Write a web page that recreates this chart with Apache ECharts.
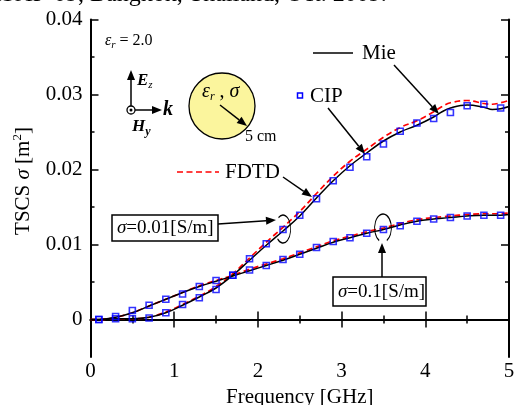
<!DOCTYPE html>
<html>
<head>
<meta charset="utf-8">
<script src="https://cdn.jsdelivr.net/npm/echarts@6/dist/echarts.min.js"></script>
<style>
  html, body { margin: 0; padding: 0; background: #fff; }
  #chart { width: 516px; height: 405px; }
</style>
</head>
<body>
<div id="chart"></div>
<script>
// frequency grid of the CIP samples [GHz]
var cipFreq = [0.1, 0.3, 0.5, 0.7, 0.9, 1.1, 1.3, 1.5, 1.7, 1.9, 2.1, 2.3, 2.5,
               2.7, 2.9, 3.1, 3.3, 3.5, 3.7, 3.9, 4.1, 4.3, 4.5, 4.7, 4.9];
// sigma = 0.01 S/m
var cipLow = [0, 0.0001, 0.0001, 0.0002, 0.0009, 0.0020, 0.0029, 0.0040, 0.0059, 0.0081,
              0.0101, 0.0120, 0.0139, 0.0161, 0.0185, 0.0203, 0.0217, 0.0234, 0.0251,
              0.0262, 0.0268, 0.0276, 0.0285, 0.0287, 0.0282];
// sigma = 0.1 S/m
var cipHigh = [0, 0.0004, 0.0012, 0.0019, 0.0027, 0.0034, 0.0044, 0.0052, 0.0059, 0.0066,
               0.0072, 0.0080, 0.0087, 0.0096, 0.0104, 0.0109, 0.0115, 0.0120, 0.0125,
               0.0131, 0.0134, 0.0136, 0.0138, 0.0139, 0.0139];

// frequency grid of the Mie / FDTD curves
var curveFreq = [0, 0.1, 0.3, 0.5, 0.7, 0.9, 1.1, 1.3, 1.5, 1.7, 1.9, 2.1, 2.3, 2.5, 2.7,
                 2.9, 3.1, 3.3, 3.5, 3.7, 3.9, 4.1, 4.2, 4.3, 4.5, 4.7, 4.8, 4.9, 5.0];
var mieLow = [0, 0, 0.0001, 0.0001, 0.0003, 0.0009, 0.0019, 0.0030, 0.0042, 0.0059, 0.0079,
              0.0099, 0.0118, 0.0138, 0.0162, 0.0185, 0.0205, 0.0222, 0.0238, 0.0250,
              0.0259, 0.0270, 0.0277, 0.0282, 0.0286, 0.0283, 0.0280, 0.0281, 0.0284];
var fdtdLow = [0, 0, 0.0001, 0.0001, 0.0003, 0.0010, 0.0020, 0.0031, 0.0044, 0.0061, 0.0082,
               0.0103, 0.0123, 0.0144, 0.0168, 0.0191, 0.0211, 0.0227, 0.0243, 0.0256,
               0.0265, 0.0277, 0.0284, 0.0289, 0.0292, 0.0288, 0.0287, 0.0289, 0.0292];
var mieHigh = [0, 0, 0.0003, 0.0009, 0.0018, 0.0027, 0.0036, 0.0044, 0.0051, 0.0058, 0.0065,
               0.0072, 0.0079, 0.0087, 0.0095, 0.0103, 0.0109, 0.0115, 0.0120, 0.0126,
               0.0131, 0.0134, 0.0135, 0.0136, 0.0138, 0.0139, 0.0139, 0.0139, 0.0140];
var fdtdHigh = [0, 0, 0.0003, 0.0009, 0.0018, 0.0027, 0.0036, 0.0045, 0.0052, 0.0059, 0.0067,
                0.0074, 0.0081, 0.0089, 0.0097, 0.0105, 0.0111, 0.0117, 0.0122, 0.0128,
                0.0133, 0.0136, 0.0137, 0.0138, 0.0140, 0.0141, 0.0141, 0.0141, 0.0142];

var yMajor = [0, 0.01, 0.02, 0.03, 0.04];
var yMinor = [0.005, 0.015, 0.025, 0.035];

var FONT = '"Liberation Serif", "DejaVu Serif", serif';
var FS = 21;

function pairs(xs, ys) {
    return xs.map(function (x, i) { return [x, ys[i]]; });
}

function yAxisCfg(pos, ticks, len, showLine, showLabel) {
    return {
        type: 'value', position: pos, min: -0.005, max: 0.04,
        axisLine: { show: showLine, lineStyle: { color: '#000', width: 2 } },
        axisTick: { inside: true, length: len, customValues: ticks, lineStyle: { color: '#000', width: 1.5 } },
        axisLabel: {
            show: showLabel, customValues: yMajor, margin: 8, fontFamily: FONT, fontSize: FS, color: '#000',
            formatter: function (v) { return Math.abs(v) < 1e-9 ? '0' : v.toFixed(2); }
        },
        splitLine: { show: false }
    };
}

function xAxisCfg(pos, showLabel) {
    return {
        type: 'value', position: pos, min: 0, max: 5, interval: 1,
        axisLine: { lineStyle: { color: '#000', width: 2 } },
        axisTick: { inside: true, length: 8, lineStyle: { color: '#000', width: 1.5 } },
        minorTick: { show: true, splitNumber: 2, length: 4, lineStyle: { color: '#000', width: 1.5 } },
        axisLabel: { show: showLabel, margin: 4, fontFamily: FONT, fontSize: FS, color: '#000' },
        splitLine: { show: false },
        name: showLabel ? 'Frequency [GHz]' : '',
        nameLocation: 'middle', nameGap: 26,
        nameTextStyle: { fontFamily: FONT, fontSize: FS, color: '#000' }
    };
}

function arrow(x1, y1, x2, y2) {
    var a = Math.atan2(y2 - y1, x2 - x1), L = 10, W = 4;
    var bx = x2 - L * Math.cos(a), by = y2 - L * Math.sin(a);
    return [
        { type: 'line', shape: { x1: x1, y1: y1, x2: bx, y2: by }, style: { stroke: '#000', lineWidth: 1.5 }, z: 200 },
        { type: 'polygon', shape: { points: [[x2, y2],
            [bx + W * Math.sin(a), by - W * Math.cos(a)],
            [bx - W * Math.sin(a), by + W * Math.cos(a)]] }, style: { fill: '#000' }, z: 200 }
    ];
}

function txt(x, y, text, size, extra) {
    var s = { x: x, y: y, text: text, fontFamily: FONT, fontSize: size, fill: '#000',
              textVerticalAlign: 'middle' };
    for (var k in extra) s[k] = extra[k];
    return { type: 'text', style: s, z: 210 };
}

var richBox = {
    i: { fontFamily: FONT, fontStyle: 'italic', fontSize: 19 },
    n: { fontFamily: FONT, fontSize: 19 }
};

var graphics = [];
// clipped header from the page above the figure
graphics.push(txt(-6, 0, 'ISAP-09, Bangkok, Thailand, Oct. 2009.', 24, { textVerticalAlign: 'bottom', y: 6.5 }));
// eps_r = 2.0
graphics.push(txt(105, 41, '{i|ε}{s|r}{n| = 2.0}', 16, { rich: {
    i: { fontFamily: FONT, fontStyle: 'italic', fontSize: 16 },
    s: { fontFamily: FONT, fontStyle: 'italic', fontSize: 11, padding: [8, 0, 0, 0] },
    n: { fontFamily: FONT, fontSize: 16 } } }));
// field orientation icon
graphics = graphics.concat(arrow(131, 106, 131, 70));
graphics = graphics.concat(arrow(135, 110, 162, 110));
graphics.push({ type: 'circle', shape: { cx: 131, cy: 110, r: 4 }, style: { fill: '#fff', stroke: '#000', lineWidth: 1.3 }, z: 201 });
graphics.push({ type: 'circle', shape: { cx: 131, cy: 110, r: 1.5 }, style: { fill: '#000' }, z: 202 });
graphics.push(txt(137, 81, '{b|E}{s|z}', 17, { rich: {
    b: { fontFamily: FONT, fontStyle: 'italic', fontWeight: 'bold', fontSize: 17 },
    s: { fontFamily: FONT, fontStyle: 'italic', fontSize: 11, padding: [8, 0, 0, 0] } } }));
graphics.push(txt(132, 127, '{b|H}{s|y}', 17, { rich: {
    b: { fontFamily: FONT, fontStyle: 'italic', fontWeight: 'bold', fontSize: 17 },
    s: { fontFamily: FONT, fontStyle: 'italic', fontWeight: 'bold', fontSize: 12, padding: [9, 0, 0, 0] } } }));
graphics.push(txt(163, 110, 'k', 20, { fontStyle: 'italic', fontWeight: 'bold' }));
// cylinder
graphics.push({ type: 'circle', shape: { cx: 222, cy: 106, r: 33 }, style: { fill: '#fbf59d', stroke: '#000', lineWidth: 1.3 }, z: 200 });
graphics.push(txt(202, 92, '{i|ε}{s|r}{n| , }{i|σ}', 20, { rich: {
    i: { fontFamily: FONT, fontStyle: 'italic', fontSize: 20 },
    s: { fontFamily: FONT, fontStyle: 'italic', fontSize: 12, padding: [9, 0, 0, 0] },
    n: { fontFamily: FONT, fontSize: 20 } } }));
graphics = graphics.concat(arrow(220, 105, 247, 126));
graphics.push(txt(245, 137, '5 cm', 16));
// legend
graphics.push({ type: 'line', shape: { x1: 313, y1: 53, x2: 353, y2: 53 }, style: { stroke: '#000', lineWidth: 1.5 }, z: 200 });
graphics.push(txt(362, 53, 'Mie', FS));
graphics.push({ type: 'rect', shape: { x: 297.5, y: 93, width: 5, height: 5 }, style: { fill: 'none', stroke: '#0000ff', lineWidth: 1.5 }, z: 200 });
graphics.push(txt(310, 96, 'CIP', FS));
graphics.push({ type: 'line', shape: { x1: 177, y1: 172, x2: 219, y2: 172 }, style: { stroke: '#ff0000', lineWidth: 1.6, lineDash: [6, 3.5] }, z: 200 });
graphics.push(txt(225, 172, 'FDTD', FS));
graphics = graphics.concat(arrow(394, 65, 439, 114));
graphics = graphics.concat(arrow(328, 108, 365, 154));
graphics = graphics.concat(arrow(283, 177, 312, 197));
// sigma = 0.01 box
graphics.push({ type: 'rect', shape: { x: 112, y: 215, width: 106, height: 26 }, style: { fill: '#fff', stroke: '#000', lineWidth: 1.5 }, z: 205 });
graphics.push(txt(117, 228, '{i|σ}{n|=0.01[S/m]}', 19, { rich: richBox }));
graphics = graphics.concat(arrow(218, 224, 276, 220));
graphics.push({ type: 'arc', x: 283, y: 229, scaleX: 0.55, shape: { cx: 0, cy: 0, r: 14, startAngle: -Math.PI * 0.7, endAngle: Math.PI * 0.75 }, style: { stroke: '#000', lineWidth: 1.5, fill: 'none' }, z: 200 });
// sigma = 0.1 box
graphics.push({ type: 'rect', shape: { x: 333, y: 277, width: 93, height: 29 }, style: { fill: '#fff', stroke: '#000', lineWidth: 1.5 }, z: 205 });
graphics.push(txt(338, 292, '{i|σ}{n|=0.1[S/m]}', 19, { rich: richBox }));
graphics = graphics.concat(arrow(382, 277, 382, 243));
graphics.push({ type: 'arc', x: 383, y: 228, scaleX: 0.6, shape: { cx: 0, cy: 0, r: 14, startAngle: Math.PI * 0.65, endAngle: Math.PI * 2.35 }, style: { stroke: '#000', lineWidth: 1.5, fill: 'none' }, z: 200 });
// y axis title
graphics.push({ type: 'text', x: 23, y: 181, rotation: Math.PI / 2, style: {
    text: '{n|TSCS }{i|σ}{n| [m}{s|2}{n|]}', textAlign: 'center', textVerticalAlign: 'middle',
    rich: { n: { fontFamily: FONT, fontSize: 21 }, i: { fontFamily: FONT, fontStyle: 'italic', fontSize: 21 },
            s: { fontFamily: FONT, fontSize: 13, padding: [0, 0, 10, 0] } } }, z: 210 });

var chart = echarts.init(document.getElementById('chart'));
var lineBase = { type: 'line', smooth: 0.4, symbol: 'none', xAxisIndex: 0, yAxisIndex: 0 };
chart.setOption({
    animation: false,
    grid: { left: 90.5, right: 7, top: 19.5, bottom: 48, outerBoundsMode: 'none' },
    xAxis: [xAxisCfg('bottom', true), xAxisCfg('top', false)],
    yAxis: [
        yAxisCfg('left', yMajor, 8, true, true),
        yAxisCfg('left', yMinor, 4, false, false),
        yAxisCfg('right', yMajor, 8, true, false),
        yAxisCfg('right', yMinor, 4, false, false)
    ],
    series: [
        Object.assign({}, lineBase, { name: 'FDTD low', data: pairs(curveFreq, fdtdLow), z: 2,
            lineStyle: { color: '#ff0000', width: 1.7, type: [6, 3.5] } }),
        Object.assign({}, lineBase, { name: 'FDTD high', data: pairs(curveFreq, fdtdHigh), z: 2,
            lineStyle: { color: '#ff0000', width: 1.7, type: [6, 3.5] } }),
        Object.assign({}, lineBase, { name: 'Mie low', data: pairs(curveFreq, mieLow), z: 3,
            lineStyle: { color: '#000', width: 1.5 } }),
        Object.assign({}, lineBase, { name: 'Mie high', data: pairs(curveFreq, mieHigh), z: 3,
            lineStyle: { color: '#000', width: 1.5 } }),
        { type: 'scatter', name: 'CIP low', data: pairs(cipFreq, cipLow), symbol: 'rect', symbolSize: 6, z: 4,
            itemStyle: { color: 'rgba(0,0,0,0)', borderColor: '#0000ff', borderWidth: 1.6 } },
        { type: 'scatter', name: 'CIP high', data: pairs(cipFreq, cipHigh), symbol: 'rect', symbolSize: 6, z: 4,
            itemStyle: { color: 'rgba(0,0,0,0)', borderColor: '#0000ff', borderWidth: 1.6 } }
    ],
    graphic: graphics
});
</script>
</body>
</html>
